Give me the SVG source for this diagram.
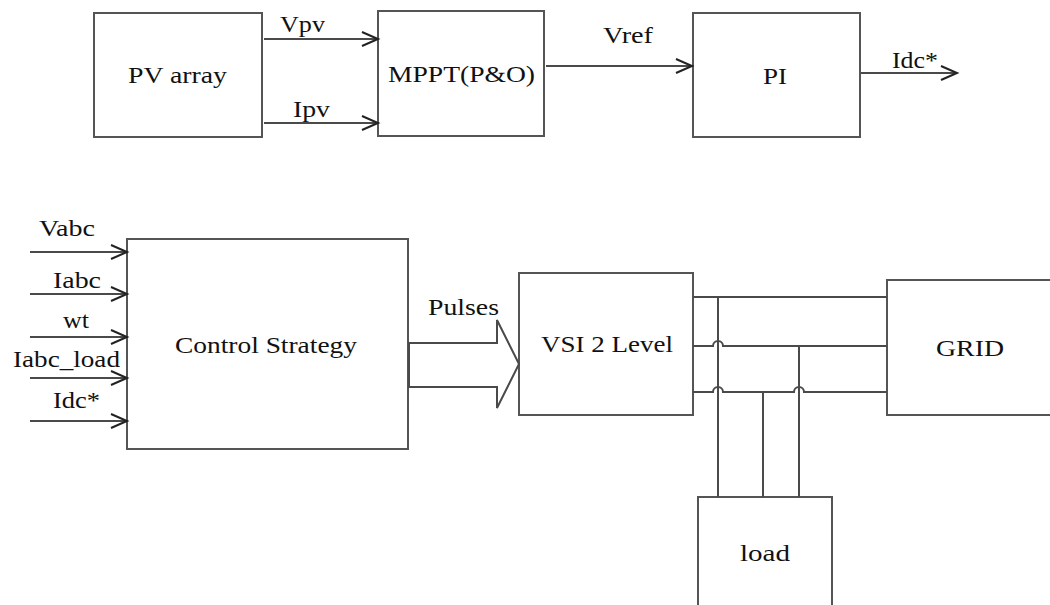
<svg xmlns="http://www.w3.org/2000/svg" width="1050" height="605" viewBox="0 0 1050 605">
<style>
.box{fill:#fff;stroke:#555;stroke-width:2}
.ln{fill:none;stroke:#4a4a4a;stroke-width:2}
text{font-family:'Liberation Serif','DejaVu Serif',serif;font-size:23px;fill:#111}
</style>
<defs>
<marker id="chev" markerUnits="userSpaceOnUse" markerWidth="20" markerHeight="18" refX="17" refY="8" orient="auto" overflow="visible">
<path d="M1,1 L17,8 L1,15" fill="none" stroke="#222" stroke-width="2"/>
</marker>
</defs>
<rect width="1050" height="605" fill="#fff"/>
<g id="pv-array"><rect class="box" x="94" y="13" width="168" height="124"/><text x="128" y="83" textLength="99" lengthAdjust="spacingAndGlyphs">PV array</text></g>
<g id="mppt"><rect class="box" x="378" y="11" width="166" height="125"/><text x="388" y="82" textLength="147" lengthAdjust="spacingAndGlyphs">MPPT(P&amp;O)</text></g>
<g id="pi"><rect class="box" x="693" y="13" width="167" height="124"/><text x="763" y="84" textLength="24" lengthAdjust="spacingAndGlyphs">PI</text></g>
<g id="control"><rect class="box" x="127" y="239" width="281" height="210"/><text x="175" y="353" textLength="182" lengthAdjust="spacingAndGlyphs">Control Strategy</text></g>
<g id="vsi"><rect class="box" x="519" y="273" width="174" height="142"/><text x="541" y="352" textLength="132" lengthAdjust="spacingAndGlyphs">VSI 2 Level</text></g>
<g id="grid"><path class="box" d="M1052,280 L887,280 L887,415 L1052,415"/><text x="936" y="356" textLength="68" lengthAdjust="spacingAndGlyphs">GRID</text></g>
<g id="load"><path class="box" d="M698,610 L698,497 L832,497 L832,610"/><text x="740" y="561" textLength="50" lengthAdjust="spacingAndGlyphs">load</text></g>
<g id="connectors">
<line class="ln" x1="264" y1="39" x2="378" y2="39" marker-end="url(#chev)"/>
<line class="ln" x1="264" y1="123" x2="378" y2="123" marker-end="url(#chev)"/>
<line class="ln" x1="546" y1="66" x2="692" y2="66" marker-end="url(#chev)"/>
<line class="ln" x1="861" y1="73" x2="957" y2="73" marker-end="url(#chev)"/>
<line class="ln" x1="30" y1="252" x2="127" y2="252" marker-end="url(#chev)"/>
<line class="ln" x1="30" y1="294" x2="127" y2="294" marker-end="url(#chev)"/>
<line class="ln" x1="30" y1="337" x2="127" y2="337" marker-end="url(#chev)"/>
<line class="ln" x1="30" y1="378" x2="127" y2="378" marker-end="url(#chev)"/>
<line class="ln" x1="30" y1="421" x2="127" y2="421" marker-end="url(#chev)"/>
<path class="ln" d="M409,343 L497,343 L497,320 L519,364 L497,408 L497,387 L409,387 Z" fill="#fff"/>
<path class="ln" d="M693,297 L887,297"/>
<path class="ln" d="M693,346 L713,346 A5,5 0 0 1 723,346 L887,346"/>
<path class="ln" d="M693,392 L713,392 A5,5 0 0 1 723,392 L794,392 A5,5 0 0 1 804,392 L887,392"/>
<path class="ln" d="M718,297 L718,497"/>
<path class="ln" d="M799,346 L799,497"/>
<path class="ln" d="M763,392 L763,497"/>
</g>
<g id="labels">
<text x="280" y="32" textLength="45" lengthAdjust="spacingAndGlyphs">Vpv</text>
<text x="293" y="117" textLength="37" lengthAdjust="spacingAndGlyphs">Ipv</text>
<text x="603" y="43" textLength="50" lengthAdjust="spacingAndGlyphs">Vref</text>
<text x="892" y="68" textLength="46" lengthAdjust="spacingAndGlyphs">Idc*</text>
<text x="39" y="236" textLength="56" lengthAdjust="spacingAndGlyphs">Vabc</text>
<text x="53" y="288" textLength="48" lengthAdjust="spacingAndGlyphs">Iabc</text>
<text x="63" y="328" textLength="26" lengthAdjust="spacingAndGlyphs">wt</text>
<text x="13" y="367" textLength="107" lengthAdjust="spacingAndGlyphs">Iabc_load</text>
<text x="53" y="408" textLength="47" lengthAdjust="spacingAndGlyphs">Idc*</text>
<text x="428" y="315" textLength="71" lengthAdjust="spacingAndGlyphs">Pulses</text>
</g>
</svg>
